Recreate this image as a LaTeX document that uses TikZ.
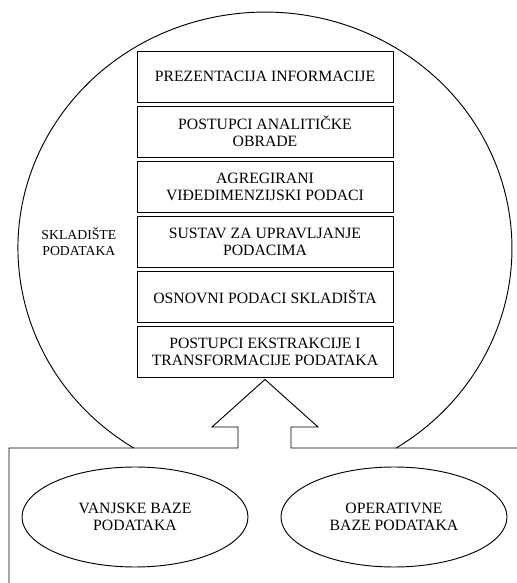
\documentclass[tikz,border=0pt]{standalone}
\usepackage{fontspec}
\setmainfont{Liberation Serif}
\usetikzlibrary{positioning,shapes.geometric}

\begin{document}
\begin{tikzpicture}[x=0.75pt,y=0.75pt,
    layer/.style={draw,line width=0.7pt,minimum width=192pt,minimum height=38.25pt,inner sep=1pt,align=center,font=\fontsize{11.8}{12.8}\selectfont},
    source/.style={draw,ellipse,line width=0.7pt,minimum width=169.5pt,minimum height=75pt,inner sep=0pt,align=center,font=\fontsize{11.8}{12.8}\selectfont},
    outline/.style={line width=0.7pt,line join=miter},
    node distance=2.3pt]
    \useasboundingbox (0,0) rectangle (517,583);
    \pgfmathsetmacro{\base}{135}
    % slojevi skladista
    \node[layer] (prez) at (265,506.5) {PREZENTACIJA INFORMACIJE};
    \node[layer,below=of prez] (olap) {POSTUPCI ANALITIČKE\\OBRADE};
    \node[layer,below=of olap] (agg) {AGREGIRANI\\VIĐEDIMENZIJSKI PODACI};
    \node[layer,below=of agg] (dbms) {SUSTAV ZA UPRAVLJANJE\\PODACIMA};
    \node[layer,below=of dbms] (core) {OSNOVNI PODACI SKLADIŠTA};
    \node[layer,below=of core] (etl) {POSTUPCI EKSTRAKCIJE I\\TRANSFORMACIJE PODATAKA};
    \node[left=15pt of dbms,inner sep=0pt,align=center,font=\fontsize{10.3}{12}\selectfont] (dw) {SKLADIŠTE\\PODATAKA};
    % izvori
    \node[source] (ext) at (135,66) {VANJSKE BAZE\\PODATAKA};
    \node[source] (ops) at (394,66) {OPERATIVNE\\BAZE PODATAKA};
    % krug skladista
    \coordinate (arcL) at (133.7,\base);
    \draw[outline] (arcL) arc[start angle=237.9,end angle=-57.9,x radius=185.25pt,y radius=177pt];
    % strelica i granica
    \coordinate (tip) at ([yshift=-1.5pt]etl.south);
    \coordinate (corner) at (9,\base);
    \draw[outline] (9,0) -- (corner) -- (238,\base) -- (238,156) -- (212,156) -- (tip)
      -- (318,156) -- (291,156) -- (291,\base) -- (517,\base);
  \end{tikzpicture}
\end{document}
